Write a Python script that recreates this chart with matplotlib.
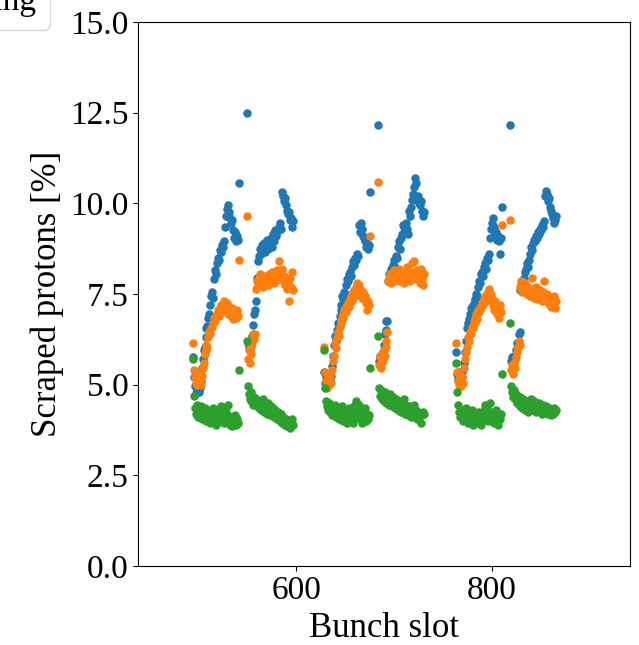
import numpy as np
import matplotlib
matplotlib.use('Agg')
import matplotlib.pyplot as plt

plt.rcParams['font.family'] = 'serif'
plt.rcParams['font.serif'] = ['Liberation Serif', 'DejaVu Serif']
plt.rcParams['font.size'] = 24

# first bunch slot of each 48-bunch train
train_starts = [494, 549, 628, 683, 763, 818]
n_bunches = 48

# scraped protons [%] per bunch, one list per train (blue / orange / green)
blue_t1 = [5.75, 5.22, 4.95, 4.78, 4.88, 5.02, 4.80, 4.92, 5.10, 5.45, 5.70, 5.95,
           6.05, 6.30, 6.55, 6.62, 6.85, 6.95, 7.20, 7.45, 7.55, 7.40, 7.90, 8.15,
           8.05, 8.35, 8.50, 8.45, 8.70, 8.65, 8.85, 8.80, 8.95, 9.35, 9.65, 9.85,
           9.95, 9.75, 9.60, 9.45, 9.55, 9.25, 9.05, 9.20, 8.95, 9.10, 9.00, 10.55]
blue_t2 = [12.50, 6.15, 6.05, 5.95, 6.20, 6.10, 6.35, 6.65, 6.95, 7.05, 7.30, 7.95,
           8.40, 8.55, 8.75, 8.60, 8.85, 8.70, 8.90, 8.65, 8.80, 9.00, 8.75, 8.95,
           8.85, 9.05, 8.80, 9.15, 8.95, 9.25, 9.10, 9.20, 9.30, 9.35, 9.45, 9.30,
           10.30, 10.20, 10.05, 10.15, 9.95, 9.80, 9.70, 9.75, 9.55, 9.60, 9.35, 9.50]
blue_t3 = [5.35, 5.05, 5.20, 4.95, 5.15, 5.30, 5.10, 5.25, 5.50, 5.80, 6.10, 6.35,
           6.20, 6.50, 6.70, 6.65, 6.90, 7.05, 7.20, 7.45, 7.35, 7.55, 7.50, 7.75,
           7.90, 7.85, 8.05, 8.10, 8.00, 8.25, 8.40, 8.30, 8.50, 8.45, 8.60, 8.55,
           9.40, 9.20, 9.45, 9.30, 9.10, 9.05, 8.95, 8.80, 8.90, 8.75, 8.85, 10.30]
blue_t4 = [12.15, 5.65, 5.80, 5.60, 5.75, 5.90, 6.10, 6.40, 6.50, 6.75, 6.75, 7.85,
           8.05, 8.00, 8.20, 8.10, 8.30, 8.45, 8.25, 8.55, 8.50, 8.80, 8.95, 8.75,
           9.05, 9.15, 9.40, 9.35, 9.25, 9.45, 9.30, 9.15, 9.80, 9.65, 9.90, 10.10,
           10.25, 10.45, 10.70, 10.55, 10.10, 10.20, 10.00, 9.95, 10.05, 9.80, 9.65, 9.75]
blue_t5 = [5.90, 5.30, 5.15, 5.35, 5.05, 5.30, 5.20, 5.40, 5.60, 5.90, 6.20, 6.55,
           6.70, 6.80, 6.95, 7.10, 7.00, 7.20, 7.15, 7.35, 7.30, 7.50, 7.45, 7.70,
           7.85, 7.80, 8.05, 8.10, 8.00, 8.25, 8.35, 8.20, 8.50, 8.45, 8.60, 9.05,
           9.30, 9.45, 9.60, 9.35, 9.15, 9.20, 9.00, 9.10, 8.95, 8.60, 9.05, 9.90]
blue_t6 = [12.15, 5.65, 5.75, 5.55, 5.80, 5.70, 5.95, 6.15, 6.10, 6.40, 6.45, 7.60,
           7.75, 7.85, 7.70, 7.95, 8.10, 8.20, 8.35, 8.25, 8.45, 8.60, 8.80, 8.70,
           8.90, 9.00, 8.95, 9.10, 9.05, 9.20, 9.15, 9.30, 9.25, 9.40, 9.35, 9.50,
           10.20, 10.35, 10.25, 10.05, 10.15, 9.90, 9.80, 9.70, 9.60, 9.45, 9.55, 9.65]

orange_t1 = [6.15, 5.40, 5.20, 5.05, 4.98, 5.15, 5.30, 5.10, 5.00, 5.25, 5.45, 5.60,
             5.85, 5.95, 6.10, 6.05, 6.30, 6.45, 6.40, 6.55, 6.60, 6.70, 6.85, 6.75,
             6.90, 6.95, 7.05, 6.90, 7.10, 7.20, 7.00, 7.15, 7.30, 7.05, 7.20, 7.25,
             6.95, 7.15, 7.05, 6.90, 7.10, 6.80, 7.00, 6.95, 6.85, 7.05, 6.90, 8.45]
orange_t2 = [9.65, 5.70, 5.95, 5.60, 6.05, 5.85, 6.20, 6.40, 6.25, 6.40, 7.65, 7.85,
             7.75, 7.95, 8.05, 7.80, 7.90, 7.70, 7.85, 8.00, 7.80, 7.95, 7.75, 8.05,
             7.90, 7.85, 8.10, 7.95, 7.80, 8.00, 7.85, 8.15, 7.90, 8.40, 8.05, 7.95,
             8.20, 7.85, 8.00, 7.75, 7.90, 7.65, 7.80, 7.30, 7.95, 7.70, 8.10, 7.60]
orange_t3 = [6.05, 5.35, 5.10, 4.90, 5.20, 5.00, 5.25, 5.05, 5.40, 5.65, 5.80, 6.15,
             6.00, 6.30, 6.45, 6.35, 6.60, 6.75, 6.70, 6.90, 6.85, 7.05, 7.10, 7.00,
             7.20, 7.25, 7.15, 7.35, 7.45, 7.30, 7.55, 7.60, 7.45, 7.70, 7.80, 7.65,
             7.75, 7.50, 7.60, 7.40, 7.55, 7.35, 7.45, 7.25, 7.05, 7.30, 7.20, 9.10]
orange_t4 = [10.60, 5.55, 5.75, 5.45, 5.85, 5.65, 5.95, 5.80, 6.05, 6.20, 6.45, 7.85,
             7.95, 8.05, 7.80, 8.00, 7.90, 8.15, 7.85, 7.95, 8.05, 7.90, 8.20, 7.85,
             8.00, 7.95, 8.10, 7.80, 8.05, 7.90, 8.25, 7.95, 8.00, 7.85, 8.10, 8.35,
             7.95, 8.40, 8.05, 7.90, 8.15, 7.95, 8.00, 7.80, 8.20, 7.90, 7.75, 8.05]
orange_t5 = [6.15, 5.35, 5.10, 5.00, 5.25, 4.95, 5.20, 5.05, 5.45, 5.70, 5.90, 6.05,
             6.30, 6.20, 6.45, 6.40, 6.60, 6.55, 6.75, 6.70, 6.85, 6.95, 6.80, 7.05,
             7.00, 7.15, 7.10, 7.25, 7.20, 7.35, 7.45, 7.30, 7.50, 7.55, 7.65, 7.40,
             7.50, 7.35, 7.20, 7.05, 7.30, 7.15, 6.95, 7.10, 6.85, 7.20, 7.00, 9.40]
orange_t6 = [9.55, 5.40, 5.55, 5.30, 5.60, 5.45, 5.75, 5.90, 6.05, 6.20, 6.10, 7.70,
             7.85, 7.55, 7.75, 7.60, 7.80, 7.65, 7.50, 7.70, 7.55, 7.45, 7.65, 7.95,
             7.60, 7.40, 7.55, 7.70, 7.35, 7.50, 7.45, 7.60, 7.40, 7.30, 7.55, 7.85,
             7.45, 7.35, 7.50, 7.25, 7.40, 7.30, 7.15, 7.35, 7.20, 7.45, 7.10, 7.30]

green_t1 = [5.70, 4.70, 4.35, 4.20, 4.45, 4.10, 4.30, 4.15, 4.40, 4.05, 4.25, 4.20,
            4.35, 4.10, 4.00, 4.30, 4.15, 4.25, 3.95, 4.20, 4.10, 4.35, 4.05, 4.20,
            3.90, 4.15, 4.30, 4.05, 4.25, 4.40, 4.00, 4.15, 3.95, 4.10, 4.35, 4.20,
            4.45, 4.05, 3.90, 4.10, 3.85, 4.00, 3.95, 4.15, 3.90, 4.05, 3.95, 5.40]
green_t2 = [6.20, 4.95, 4.75, 4.60, 4.80, 4.55, 4.70, 4.45, 4.65, 4.50, 4.60, 4.40,
            4.55, 4.35, 4.50, 4.30, 4.45, 4.60, 4.25, 4.40, 4.35, 4.20, 4.50, 4.30,
            4.15, 4.40, 4.25, 4.35, 4.10, 4.30, 4.20, 4.05, 4.25, 4.15, 4.00, 4.20,
            3.95, 4.10, 4.00, 3.90, 4.05, 3.85, 4.00, 3.95, 3.80, 3.95, 4.05, 3.90]
green_t3 = [5.95, 4.90, 4.55, 4.40, 4.30, 4.50, 4.25, 4.40, 4.15, 4.35, 4.20, 4.45,
            4.10, 4.30, 4.25, 4.05, 4.35, 4.20, 4.15, 4.40, 4.00, 4.25, 4.10, 4.30,
            3.95, 4.20, 4.35, 4.05, 4.15, 4.25, 3.95, 4.40, 4.10, 4.55, 4.30, 4.20,
            4.45, 4.05, 4.15, 3.95, 4.25, 4.10, 4.35, 4.00, 4.20, 4.05, 4.15, 5.45]
green_t4 = [6.35, 4.90, 4.70, 4.85, 4.60, 4.75, 4.55, 4.80, 4.65, 4.50, 4.70, 4.60,
            4.45, 4.75, 4.55, 4.40, 4.65, 4.50, 4.35, 4.60, 4.45, 4.30, 4.55, 4.40,
            4.25, 4.50, 4.35, 4.60, 4.20, 4.45, 4.30, 4.15, 4.40, 4.25, 4.10, 4.35,
            4.20, 4.45, 4.15, 4.30, 4.05, 4.25, 4.10, 4.20, 3.95, 4.15, 4.25, 4.20]
green_t5 = [5.60, 4.80, 4.45, 4.25, 4.10, 4.30, 4.15, 4.00, 4.20, 4.05, 4.35, 4.10,
            3.95, 4.25, 4.10, 4.00, 4.30, 3.90, 4.15, 4.05, 4.20, 3.95, 4.10, 4.25,
            4.00, 4.15, 3.90, 4.20, 4.05, 4.30, 4.45, 4.10, 4.35, 4.00, 4.20, 4.50,
            4.25, 4.05, 4.15, 3.95, 4.10, 4.30, 4.00, 3.90, 4.15, 4.05, 4.20, 5.30]
green_t6 = [6.70, 4.95, 4.80, 4.65, 4.85, 4.60, 4.75, 4.50, 4.70, 4.55, 4.40, 4.65,
            4.50, 4.35, 4.60, 4.45, 4.30, 4.55, 4.40, 4.25, 4.50, 4.35, 4.60, 4.45,
            4.30, 4.55, 4.40, 4.25, 4.45, 4.35, 4.50, 4.30, 4.40, 4.20, 4.45, 4.35,
            4.25, 4.40, 4.30, 4.20, 4.35, 4.25, 4.15, 4.30, 4.20, 4.35, 4.25, 4.30]

labels = ['Injection', 'Ramp', 'Colliding']

# bunch slot numbers of all trains
slots = np.concatenate([s + np.arange(n_bunches) for s in train_starts])
blue = np.concatenate([blue_t1, blue_t2, blue_t3, blue_t4, blue_t5, blue_t6])
orange = np.concatenate([orange_t1, orange_t2, orange_t3, orange_t4, orange_t5, orange_t6])
green = np.concatenate([green_t1, green_t2, green_t3, green_t4, green_t5, green_t6])

fig = plt.figure(figsize=(6.39, 6.45), dpi=100)
ax = fig.add_axes([0.216, 0.1225, 0.77, 0.8435])

for vals, c, lab in zip([blue, orange, green], ['C0', 'C1', 'C2'], labels):
    ax.scatter(slots, vals, s=26, color=c, label=lab)

ax.set_xlim(438, 941)
ax.set_ylim(0, 15)
ax.set_xticks([600, 800])
ax.set_yticks([0, 2.5, 5, 7.5, 10, 12.5, 15])
ax.set_xlabel('Bunch slot', fontsize=25)
ax.set_ylabel('Scraped protons [%]', fontsize=25)

# legend sits outside the canvas, only its corner shows
fig.legend(loc='lower right', bbox_to_anchor=(50 / 639, 1 - 30 / 645),
           bbox_transform=fig.transFigure, borderaxespad=0, fontsize=24)

plt.savefig('out.png', dpi=100)
